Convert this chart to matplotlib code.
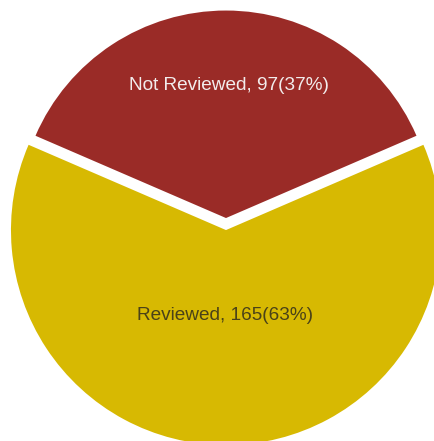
import matplotlib.pyplot as plt

# data
labels = ['Not Reviewed', 'Reviewed']
counts = [97, 165]
colors = ['#9A2B27', '#D7B902']
text_colors = ['#F2ECEC', '#4A4218']
explode = [0.056, 0]

total = sum(counts)

fig = plt.figure(figsize=(4.35, 4.41), dpi=100)
ax = fig.add_axes([0, 0, 1, 1])

start = 90 + 360 * counts[0] / total / 2  # centre the first slice on the top
wedges, _ = ax.pie(counts, colors=colors, explode=explode, startangle=start,
                   counterclock=False, wedgeprops=dict(linewidth=0))
wedges[0].set_radius(0.965)  # the red slice looks a bit smaller in the scan

# clipped circle, 1 unit = 215 px
ax.set_aspect('auto')
ax.set_xlim(-1.051, 0.972)
ax.set_ylim(-0.981, 1.070)
ax.axis('off')

# label positions (data coords)
label_xy = [(0.014, 0.674), (-0.005, -0.395)]
for lab, c, tc, (x, y) in zip(labels, counts, text_colors, label_xy):
    txt = '%s, %d(%d%%)' % (lab, c, round(100 * c / total))
    ax.text(x, y, txt, ha='center', va='center', color=tc,
            fontsize=13.7, family='Liberation Sans')

fig.savefig('out.png', dpi=100, facecolor='white')
